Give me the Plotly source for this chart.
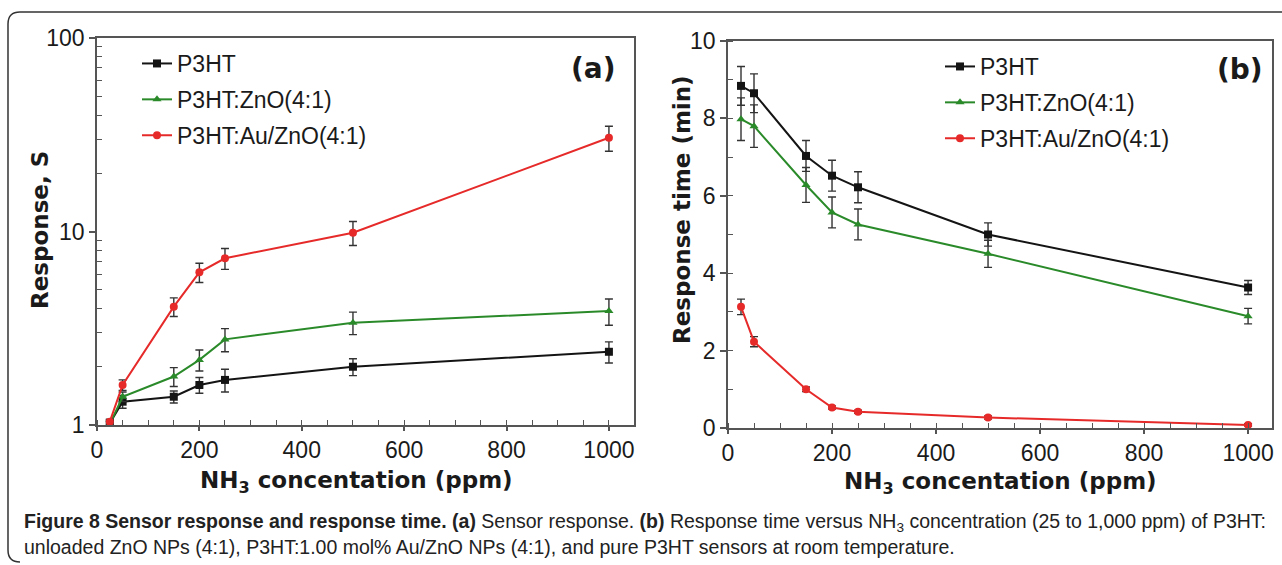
import plotly.graph_objects as go

W, H = 1282, 565

conc = [25, 50, 150, 200, 250, 500, 1000]

# (a) Sensor response
resp_p3ht = [1.02, 1.32, 1.40, 1.61, 1.71, 2.00, 2.39]
resp_p3ht_err = [0.03, 0.10, 0.10, 0.15, 0.23, 0.20, 0.30]
resp_zno = [1.01, 1.40, 1.78, 2.17, 2.77, 3.38, 3.88]
resp_zno_err = [0.03, 0.08, 0.20, 0.27, 0.38, 0.45, 0.60]
resp_au = [1.04, 1.61, 4.09, 6.15, 7.27, 9.86, 30.5]
resp_au_err = [0.03, 0.10, 0.45, 0.70, 0.90, 1.40, 4.50]

# (b) Response time (min)
time_p3ht = [8.84, 8.65, 7.03, 6.52, 6.22, 5.00, 3.63]
time_p3ht_err = [0.50, 0.50, 0.40, 0.40, 0.40, 0.30, 0.18]
time_zno = [7.98, 7.80, 6.28, 5.57, 5.26, 4.50, 2.89]
time_zno_err = [0.55, 0.55, 0.45, 0.40, 0.40, 0.35, 0.20]
time_au = [3.13, 2.23, 1.00, 0.53, 0.42, 0.27, 0.08]
time_au_err = [0.20, 0.13, 0.06, 0.04, 0.04, 0.04, 0.03]

names = ["P3HT", "P3HT:ZnO(4:1)", "P3HT:Au/ZnO(4:1)"]
colors = ["#141414", "#2a8a2a", "#e62a2a"]
symbols = ["square", "triangle-up", "circle"]

x_ticks = [0, 200, 400, 600, 800, 1000]
x_tick_text = ["0", "200", "400", "600", "800", "1000"]

TXT = "#1a1a1a"
AX = "#555555"
TICKFONT = dict(family="Liberation Sans, Arial, sans-serif", size=23, color=TXT)
TITLEFONT = dict(family="DejaVu Sans, Verdana, sans-serif", size=23, color=TXT)

fig = go.Figure()

series_a = [(resp_p3ht, resp_p3ht_err), (resp_zno, resp_zno_err), (resp_au, resp_au_err)]
series_b = [(time_p3ht, time_p3ht_err), (time_zno, time_zno_err), (time_au, time_au_err)]

for i, (vals, errs) in enumerate(series_a):
    fig.add_trace(go.Scatter(
        x=conc, y=vals, name=names[i], mode="lines+markers",
        line=dict(color=colors[i], width=2),
        marker=dict(symbol=symbols[i], size=8, color=colors[i]),
        error_y=dict(type="data", array=errs, color="#333333", thickness=1.4, width=4),
        xaxis="x", yaxis="y", legend="legend", legendgroup="a%d" % i,
    ))

for i, (vals, errs) in enumerate(series_b):
    fig.add_trace(go.Scatter(
        x=conc, y=vals, name=names[i], mode="lines+markers",
        line=dict(color=colors[i], width=2),
        marker=dict(symbol=symbols[i], size=8, color=colors[i]),
        error_y=dict(type="data", array=errs, color="#333333", thickness=1.4, width=4),
        xaxis="x2", yaxis="y2", legend="legend2", legendgroup="b%d" % i,
    ))

def px_x(p):
    return p / W

def px_y(p):
    return 1 - p / H

common_x = dict(
    tickmode="array", tickvals=x_ticks, ticktext=x_tick_text,
    ticks="outside", ticklen=4, tickwidth=1.5, tickcolor=AX,
    showline=True, linecolor=AX, linewidth=1.5, mirror=True,
    showgrid=False, zeroline=False, tickfont=TICKFONT, automargin=False,
    minor=dict(dtick=50, tick0=0, ticks="inside", ticklen=5, tickcolor=AX, tickwidth=1.2, showgrid=False),
    ticklabelstandoff=0,
)

fig.update_layout(
    width=W, height=H, autosize=False,
    margin=dict(l=0, r=0, t=0, b=0),
    paper_bgcolor="white", plot_bgcolor="white",
    showlegend=True,
    xaxis=dict(domain=[px_x(97), px_x(634)], range=[0, 1049], anchor="y", **common_x),
    yaxis=dict(
        domain=[px_y(425), px_y(38)], type="log", range=[0, 2], dtick=1,
        tickvals=[1, 10, 100], ticktext=["1", "10", "100"],
        ticks="outside", ticklen=6, tickwidth=1.5, tickcolor=AX,
        showline=True, linecolor=AX, linewidth=1.5, mirror=True,
        showgrid=False, zeroline=False, tickfont=TICKFONT, automargin=False,
        minor=dict(tickvals=[2, 3, 4, 5, 6, 7, 8, 9, 20, 30, 40, 50, 60, 70, 80, 90],
                   ticks="inside", ticklen=5, tickcolor=AX, tickwidth=1.2, showgrid=False),
        anchor="x",
    ),
    xaxis2=dict(domain=[px_x(728), px_x(1272)], range=[0, 1046], anchor="y2", **common_x),
    yaxis2=dict(
        domain=[px_y(428), px_y(41)], range=[0, 10], dtick=2, tick0=0,
        ticks="outside", ticklen=6, tickwidth=1.5, tickcolor=AX,
        showline=True, linecolor=AX, linewidth=1.5, mirror=True,
        showgrid=False, zeroline=False, tickfont=TICKFONT, automargin=False,
        minor=dict(dtick=1, tick0=0, ticks="inside", ticklen=5, tickcolor=AX, tickwidth=1.2, showgrid=False),
        anchor="x2",
    ),
    legend=dict(
        x=px_x(137), y=px_y(42), xanchor="left", yanchor="top",
        bgcolor="rgba(0,0,0,0)", borderwidth=0,
        font=dict(family="Liberation Sans, Arial, sans-serif", size=23, color=TXT),
        traceorder="grouped", tracegroupgap=3,
    ),
    legend2=dict(
        x=px_x(940), y=px_y(45), xanchor="left", yanchor="top",
        bgcolor="rgba(0,0,0,0)", borderwidth=0,
        font=dict(family="Liberation Sans, Arial, sans-serif", size=23, color=TXT),
        traceorder="grouped", tracegroupgap=3,
    ),
)

def label(text, x, y, font, angle=0, xanchor="center"):
    return dict(text=text, x=px_x(x), y=px_y(y), xref="paper", yref="paper",
                xanchor=xanchor, yanchor="middle", textangle=angle,
                showarrow=False, font=font)

PANELFONT = dict(family="DejaVu Sans, Verdana, sans-serif", size=28, color=TXT)
CAPFONT = dict(family="Liberation Sans, Arial, sans-serif", size=19.5, color="#222222")

ann = [
    label("<b>(a)</b>", 593, 68, PANELFONT),
    label("<b>(b)</b>", 1240, 70, PANELFONT),
    label("<b>Response, S</b>", 40, 230, TITLEFONT, angle=-90),
    label("<b>Response time (min)</b>", 682, 210, TITLEFONT, angle=-90),
    label("<b>NH<sub>3</sub> concentation (ppm)</b>", 356, 482, TITLEFONT),
    label("<b>NH<sub>3</sub> concentation (ppm)</b>", 1000, 483, TITLEFONT),
    label("<b>Figure 8 Sensor response and response time. (a)</b> Sensor response. <b>(b)</b> "
          "Response time versus NH<sub>3</sub> concentration (25 to 1,000 ppm) of P3HT:",
          22, 522, CAPFONT, xanchor="left"),
    label("unloaded ZnO NPs (4:1), P3HT:1.00 mol% Au/ZnO NPs (4:1), and pure P3HT sensors at room temperature.",
          22, 547, CAPFONT, xanchor="left"),
]
fig.update_layout(annotations=ann)

# rounded frame around the figure (open on the right)
def P(x, y):
    return "%.5f,%.5f" % (px_x(x), px_y(y))

path = ("M " + P(1282, 12) + " L " + P(20, 12) + " Q " + P(8, 12) + " " + P(8, 24) +
        " L " + P(8, 550) + " Q " + P(8, 562) + " " + P(20, 562))
fig.add_shape(type="path", path=path, xref="paper", yref="paper",
              line=dict(color="#333333", width=1.5))

fig.write_html(
    "out.html",
    config={"displayModeBar": False},
    post_script="document.body.style.margin='0';document.body.style.overflow='hidden';",
)
